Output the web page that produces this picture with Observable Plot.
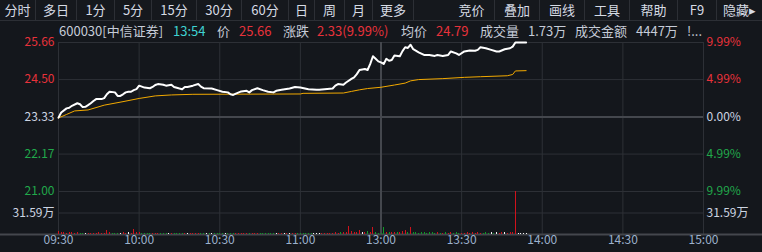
<!DOCTYPE html>
<html><head><meta charset="utf-8">
<script src="https://cdn.jsdelivr.net/npm/d3@7"></script>
<script src="https://cdn.jsdelivr.net/npm/@observablehq/plot@0.6"></script>
<style>
body{margin:0;background:#14171c;}
#wrap{position:relative;width:762px;height:252px;background:#14171c;overflow:hidden;font-family:"Noto Sans CJK SC","Noto Sans",sans-serif;}
#wrap svg{position:absolute;left:0;top:0;background:transparent;}
#toolbar{position:absolute;left:0;top:0;width:762px;height:20px;border-bottom:1px solid #2c2f35;background:#15181d;}
.tb{position:absolute;top:0;height:20px;line-height:20px;font-size:13px;color:#d6dbe4;text-align:center;border-right:1px solid #2c2f35;box-sizing:border-box;}
.hd{position:absolute;top:21px;height:20px;line-height:20px;font-size:13px;white-space:nowrap;color:#c6ccd8;}
</style></head>
<body>
<div id="wrap">
  <div id="toolbar"></div>
  <div id="header"></div>
</div>
<script>
// ---------- data ----------
const stockCode = "600030";
const stockName = "中信证券";
const lastTime = "13:54";
const lastPrice = 25.66;
const change = 2.33;
const changePct = "9.99%";
const avgPriceNow = 24.79;
const volumeTotal = "1.73万";
const amountTotal = "4447万";

const toolbarItems = ["分时","多日","1分","5分","15分","30分","60分","日","周","月","更多","竞价","叠加","画线","工具","帮助","F9","隐藏▸"];

const prevClose = 23.33;
const priceTicks = [25.66, 24.50, 23.33, 22.17, 21.00];
const pctTicks = ["9.99%", "4.99%", "0.00%", "4.99%", "9.99%"];
const timeTicks = ["09:30","10:00","10:30","11:00","13:00","13:30","14:00","14:30","15:00"];
const volMaxLabel = 63.18;
const volTicks = [31.59];
const volTickLabels = ["31.59万"];

const priceTimes = ["09:30","09:31","09:33","09:34","09:35","09:37","09:38","09:39","09:40","09:41","09:42","09:43","09:44","09:46","09:47","09:48","09:49","09:51","09:52","09:53","09:54","09:55","09:56","09:57","09:58","09:59","10:00","10:01","10:02","10:04","10:05","10:06","10:07","10:09","10:10","10:12","10:13","10:15","10:16","10:17","10:18","10:20","10:22","10:23","10:24","10:27","10:29","10:31","10:33","10:34","10:35","10:36","10:38","10:40","10:41","10:42","10:44","10:46","10:48","10:50","10:51","10:53","10:56","10:58","11:00","11:03","11:06","11:07","11:09","11:12","11:13","11:14","11:16","11:17","11:19","11:20","11:21","11:22","11:24","11:25","11:26","11:27","11:28","11:29","13:00","13:01","13:02","13:03","13:04","13:05","13:07","13:08","13:09","13:10","13:11","13:12","13:14","13:16","13:18","13:20","13:21","13:23","13:25","13:26","13:28","13:29","13:31","13:33","13:35","13:36","13:37","13:39","13:41","13:43","13:44","13:46","13:48","13:49","13:50","13:54"];
const prices = [23.31,23.47,23.60,23.62,23.68,23.76,23.73,23.64,23.65,23.70,23.76,23.83,23.89,23.89,23.92,24.04,24.12,24.10,23.99,23.99,24.04,24.10,24.12,24.12,24.17,24.20,24.31,24.28,24.25,24.23,24.27,24.33,24.36,24.34,24.31,24.34,24.27,24.22,24.20,24.27,24.27,24.31,24.36,24.28,24.23,24.22,24.17,24.12,24.10,24.04,24.02,24.06,24.13,24.15,24.10,24.17,24.23,24.17,24.12,24.10,24.15,24.18,24.22,24.27,24.25,24.20,24.18,24.18,24.20,24.22,24.31,24.36,24.34,24.41,24.52,24.57,24.67,24.80,24.83,24.80,24.99,25.23,25.15,25.07,25.04,24.99,25.15,25.09,25.11,25.25,25.23,25.39,25.51,25.49,25.59,25.45,25.35,25.27,25.27,25.24,25.27,25.24,25.27,25.38,25.32,25.27,25.38,25.41,25.40,25.43,25.51,25.48,25.43,25.38,25.38,25.45,25.48,25.53,25.66,25.66];

const avgTimes = ["09:30","09:33","09:36","09:41","09:47","09:54","10:00","10:06","10:12","10:20","11:00","11:01","11:16","11:19","11:22","11:25","13:00","13:05","13:09","13:11","13:14","13:23","13:31","13:37","13:47","13:49","13:50","13:54"];
const avgPrices = [23.30,23.41,23.52,23.55,23.70,23.81,23.91,23.99,24.02,24.04,24.05,24.07,24.08,24.13,24.18,24.22,24.26,24.33,24.39,24.46,24.50,24.53,24.57,24.59,24.62,24.66,24.77,24.78];

// per-minute volume (万), minute 0 = 09:30
const volumes = [
 4.2,2.8,2.5,2.2,2.6,2.4,2.1,2.3,1.9,2.2,
 1.4,2.0,1.8,2.2,1.6,2.4,1.9,2.1,6.4,2.6,
 1.6,1.4,2.0,1.8,2.3,1.7,2.4,1.5,6.9,2.3,
 2.5,1.8,1.6,2.0,1.7,2.1,1.9,1.6,2.0,1.8,
 1.5,1.9,1.4,1.7,1.3,1.6,1.8,1.5,1.9,1.4,
 1.7,1.4,1.6,1.3,1.5,1.2,1.6,1.4,1.3,1.5,
 1.3,1.6,1.2,1.4,1.5,1.1,1.3,1.6,1.2,1.4,
 1.3,1.1,1.5,1.2,1.6,1.3,1.2,1.4,1.1,1.3,
 1.2,1.4,1.1,1.3,1.2,1.5,1.1,1.3,1.2,1.4,
 1.3,1.1,1.5,1.2,1.3,1.1,1.4,1.2,1.5,1.6,
 1.7,2.2,1.8,2.5,2.0,3.1,2.6,2.4,12.2,4.2,
 2.8,3.0,6.4,2.9,3.4,4.5,2.6,9.8,2.4,2.0,
 1.8,9.8,2.3,3.0,2.6,3.2,2.7,3.3,4.1,6.4,
 2.9,10.8,2.4,2.6,2.2,2.8,2.4,2.1,2.6,2.3,
 2.0,2.5,2.2,1.9,2.3,2.0,2.6,2.1,2.4,1.9,
 2.2,1.8,2.5,2.0,2.3,1.9,2.6,2.2,1.8,2.4,
 2.0,2.3,1.9,2.5,2.1,2.8,2.4,2.0,2.6,3.0,
 62.5,2.2,1.6,1.8,1.5
];
// r = up, g = down, w = unchanged
const volDir =
 "rrrrrrrrgg" + "wrrrrrrrrr" + "gggwrrwrrr" + "rggggrrrgg" + "gwrggggrwr" +
 "rrrggwgwgg" + "ggwgggrrrr" + "rgrrrggggg" + "gwrrwrwrrg" + "gggggwwwrr" +
 "rrrrrgrrrr" + "rrrwrgrrgg" + "ggrgrrgrrr" + "grgggggggg" + "grgrgrrggg" +
 "rrrrrrrrgg" + "gwgwrrwrrr" + "rwwww";

// ---------- helpers ----------
function toIdx(t) {
  const [h, m] = t.split(":").map(Number);
  const mm = h * 60 + m;
  return mm <= 690 ? mm - 570 : mm - 780 + 120;
}
const RED = "#e8323b", GREEN = "#21a84b", LIGHT = "#cdd5e2";
const GRID = "#2d3036", MID = "#44474d";
const tickColor = d => d > prevClose ? RED : d < prevClose ? GREEN : LIGHT;
const barColor = {r: "#d0121c", g: "#0e9a26", w: "#f2f2f2"};

// ---------- toolbar & header ----------
const tbCells = [[0,36],[36,77],[77,115],[115,152],[152,197],[197,242],[242,289],[289,315],[315,345],[345,373],[373,414],[449,495],[495,540],[540,585],[585,630],[630,678],[678,717],[717,762]];
const tb = document.getElementById("toolbar");
toolbarItems.forEach((t, i) => {
  const d = document.createElement("div");
  d.className = "tb";
  d.style.left = tbCells[i][0] + "px";
  d.style.width = (tbCells[i][1] - tbCells[i][0]) + "px";
  if (i === toolbarItems.length - 1) d.style.borderRight = "none";
  d.textContent = t;
  tb.appendChild(d);
});
const headerParts = [
  [stockCode + "[" + stockName + "]", "#c6ccd8", 59],
  [lastTime, "#3fd2d2", 173],
  ["价", "#c6ccd8", 217],
  [lastPrice.toFixed(2), RED, 239],
  ["涨跌", "#c6ccd8", 283],
  [change.toFixed(2) + "(" + changePct + ")", RED, 317],
  ["均价", "#c6ccd8", 401],
  [avgPriceNow.toFixed(2), RED, 436],
  ["成交量", "#c6ccd8", 480],
  [volumeTotal, "#c6ccd8", 528],
  ["成交金额", "#c6ccd8", 575],
  [amountTotal, "#c6ccd8", 636],
  ["!...", "#c6ccd8", 687]
];
const wrap = document.getElementById("wrap");
headerParts.forEach(([t, c, x]) => {
  const s = document.createElement("div");
  s.className = "hd";
  s.style.left = x + "px";
  s.style.color = c;
  s.textContent = t;
  wrap.appendChild(s);
});

// ---------- price pane ----------
const timeIdx = timeTicks.map(toIdx);
const priceData = priceTimes.map((t, i) => ({x: toIdx(t), y: prices[i]}));
const avgData = avgTimes.map((t, i) => ({x: toIdx(t), y: avgPrices[i]}));
const font = '"Noto Sans CJK SC","Noto Sans",sans-serif';

const pricePlot = Plot.plot({
  width: 762, height: 252,
  marginLeft: 58, marginRight: 59, marginTop: 42, marginBottom: 61,
  style: {background: "transparent", fontFamily: font},
  x: {domain: [0, 240], axis: null},
  y: {domain: [21.00, 25.66], axis: null},
  marks: [
    Plot.ruleY(priceTicks.filter(d => d !== prevClose), {stroke: GRID, strokeWidth: 1}),
    Plot.ruleX(timeIdx.filter(d => d !== 120), {stroke: GRID, strokeWidth: 1}),
    Plot.ruleX(timeIdx.filter(d => d === 120), {stroke: MID, strokeWidth: 2}),
    Plot.ruleY([prevClose], {stroke: MID, strokeWidth: 2}),
    Plot.line(avgData, {x: "x", y: "y", stroke: "#f2a900", strokeWidth: 1}),
    Plot.line(priceData, {x: "x", y: "y", stroke: "#ffffff", strokeWidth: 2}),
    Plot.text(priceTicks, {y: d => d, frameAnchor: "left", dx: -4, textAnchor: "end", fill: tickColor, fontSize: 12, text: d => d.toFixed(2)}),
    Plot.text(priceTicks, {y: d => d, frameAnchor: "right", dx: 3, textAnchor: "start", fill: tickColor, fontSize: 12, text: (d, i) => pctTicks[i]})
  ]
});
wrap.insertBefore(pricePlot, wrap.firstChild);

// ---------- volume pane ----------
const volData = volumes.map((v, i) => ({x: i, v, c: barColor[volDir[i]]}));
const volPlot = Plot.plot({
  width: 762, height: 252,
  marginLeft: 58, marginRight: 59, marginTop: 191, marginBottom: 18,
  style: {background: "transparent", fontFamily: font},
  x: {domain: [0, 240], axis: null},
  y: {domain: [0, volMaxLabel], axis: null},
  marks: [
    Plot.ruleY(volTicks, {stroke: GRID, strokeWidth: 1}),
    Plot.ruleX(timeIdx.filter(d => d !== 120), {stroke: GRID, strokeWidth: 1}),
    Plot.ruleX(timeIdx.filter(d => d === 120), {stroke: MID, strokeWidth: 2}),
    Plot.ruleY([0], {stroke: MID, strokeWidth: 2, insetLeft: -58, insetRight: -59}),
    Plot.ruleX(volData, {x: "x", y1: 0, y2: "v", stroke: d => d.c, strokeWidth: 1, shapeRendering: "crispEdges"}),
    Plot.text(volTicks, {y: d => d, frameAnchor: "left", dx: -4, textAnchor: "end", fill: LIGHT, fontSize: 12, text: (d, i) => volTickLabels[i]}),
    Plot.text(volTicks, {y: d => d, frameAnchor: "right", dx: 3, textAnchor: "start", fill: LIGHT, fontSize: 12, text: (d, i) => volTickLabels[i]}),
    Plot.text(timeTicks, {x: d => toIdx(d), frameAnchor: "bottom", dy: 9, fill: "#9cb1cc", fontSize: 12, text: d => d})
  ]
});
wrap.insertBefore(volPlot, pricePlot.nextSibling);
</script>
</body></html>
